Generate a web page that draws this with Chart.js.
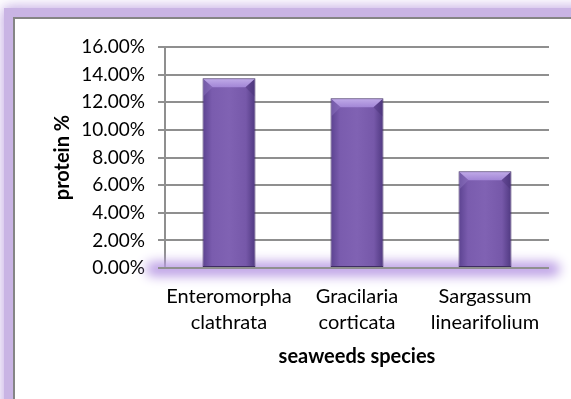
<!DOCTYPE html>
<html>
<head>
<meta charset="utf-8">
<script src="https://cdn.jsdelivr.net/npm/chart.js@4/dist/chart.umd.min.js"></script>
<style>
  html, body { margin: 0; padding: 0; background: #ffffff; }
  #wrap { position: relative; width: 571px; height: 399px; }
</style>
</head>
<body>
<div id="wrap"><canvas id="c" width="571" height="399"></canvas></div>
<script>
// Protein content by seaweed species (fraction of dry weight)
const species = [
  ['Enteromorpha', 'clathrata'],
  ['Gracilaria', 'corticata'],
  ['Sargassum', 'linearifolium']
];
const protein = [0.1374, 0.1229, 0.0701];
const yMin = 0;
const yMax = 0.16;
const yStep = 0.02;
const yTitle = 'protein %';
const xTitle = 'seaweeds species';

const FONT = 'Lato, "Open Sans", sans-serif';

// Lavender glow around the outer frame, white panel, grey border
const framePlugin = {
  id: 'frame',
  beforeDraw(chart) {
    const ctx = chart.ctx;
    const W = chart.width, H = chart.height;
    ctx.save();
    ctx.fillStyle = '#ffffff';
    ctx.fillRect(0, 0, W, H);
    ctx.shadowColor = 'rgba(170,135,215,0.95)';
    ctx.shadowBlur = 14;
    ctx.strokeStyle = '#c9b4e4';
    ctx.lineWidth = 10;
    ctx.strokeRect(9, 13, W + 40, H + 40);
    ctx.shadowBlur = 0;
    ctx.fillStyle = '#ffffff';
    ctx.fillRect(14, 18, W, H);
    ctx.strokeStyle = '#858585';
    ctx.lineWidth = 2;
    ctx.strokeRect(14, 18, W + 20, H + 20);
    ctx.restore();
  }
};

// Soft glow along the category axis, under the bars
const axisGlowPlugin = {
  id: 'axisGlow',
  beforeDatasetsDraw(chart) {
    const { ctx, chartArea } = chart;
    const y = chart.scales.y.getPixelForValue(yMin);
    const shift = 2000;
    ctx.save();
    ctx.lineCap = 'round';
    // stroke off-canvas and keep only its blurred shadow
    ctx.shadowOffsetY = shift;
    ctx.shadowColor = 'rgba(185,155,228,1)';
    ctx.shadowBlur = 12;
    ctx.strokeStyle = '#000';
    ctx.lineWidth = 14;
    ctx.beginPath();
    ctx.moveTo(chartArea.left - 12, y + 1 - shift);
    ctx.lineTo(chartArea.right + 4, y + 1 - shift);
    ctx.stroke();
    ctx.restore();
    // zero line above the glow
    ctx.save();
    ctx.strokeStyle = '#8f8f8f';
    ctx.lineWidth = 2;
    ctx.beginPath();
    ctx.moveTo(chartArea.left - 7, y);
    ctx.lineTo(chartArea.right, y);
    ctx.stroke();
    ctx.restore();
  }
};

// Bevelled top edge on each bar, positioned from the bar elements
const bevelPlugin = {
  id: 'bevel',
  afterDatasetsDraw(chart) {
    const ctx = chart.ctx;
    const meta = chart.getDatasetMeta(0);
    meta.data.forEach((bar) => {
      const half = bar.width / 2;
      const l = bar.x - half, r = bar.x + half, t = bar.y;
      const b = 9;
      ctx.save();
      const g = ctx.createLinearGradient(0, t, 0, t + b);
      g.addColorStop(0, '#c2ade9');
      g.addColorStop(1, '#a286d6');
      ctx.fillStyle = g;
      ctx.beginPath();
      ctx.moveTo(l + 1, t + 1);
      ctx.lineTo(r - 1, t + 1);
      ctx.lineTo(r - b - 1, t + b);
      ctx.lineTo(l + b + 1, t + b);
      ctx.closePath();
      ctx.fill();
      ctx.fillStyle = 'rgba(70,45,115,0.35)';
      ctx.beginPath();
      ctx.moveTo(r - 1, t + 1);
      ctx.lineTo(r - 1, t + 2 * b);
      ctx.lineTo(r - b - 1, t + b);
      ctx.closePath();
      ctx.fill();
      ctx.fillStyle = 'rgba(150,125,200,0.4)';
      ctx.beginPath();
      ctx.moveTo(l + 1, t + 1);
      ctx.lineTo(l + 1, t + 2 * b);
      ctx.lineTo(l + b + 1, t + b);
      ctx.closePath();
      ctx.fill();
      ctx.restore();
    });
  }
};

function barFill(context) {
  const chart = context.chart;
  const el = context.element;
  if (!chart.chartArea || !el || !Number.isFinite(el.x) || !Number.isFinite(el.width)) {
    return '#7a5cab';
  }
  const half = el.width / 2;
  const g = chart.ctx.createLinearGradient(el.x - half, 0, el.x + half, 0);
  g.addColorStop(0, '#5b4290');
  g.addColorStop(0.18, '#7a5cae');
  g.addColorStop(0.5, '#8062b3');
  g.addColorStop(0.82, '#7658a9');
  g.addColorStop(1, '#4f3880');
  return g;
}

const chart = new Chart(document.getElementById('c'), {
  type: 'bar',
  data: {
    labels: species,
    datasets: [{
      data: protein,
      backgroundColor: barFill,
      borderColor: '#3e2b63',
      borderWidth: 1,
      borderSkipped: false,
      barPercentage: 0.414,
      categoryPercentage: 1.0
    }]
  },
  options: {
    responsive: false,
    animation: false,
    devicePixelRatio: 1,
    layout: { padding: { left: 0, top: 47, right: 22, bottom: 0 } },
    plugins: {
      legend: { display: false },
      tooltip: { enabled: false }
    },
    scales: {
      x: {
        grid: { display: false, drawTicks: false },
        border: { display: false },
        ticks: {
          color: '#000000',
          font: { family: FONT, size: 20, lineHeight: 26 / 20 },
          padding: 16,
          maxRotation: 0,
          autoSkip: false
        },
        title: {
          display: true,
          text: xTitle,
          color: '#000000',
          font: { family: FONT, size: 20, weight: 'bold', lineHeight: 1.2 },
          padding: { top: 0, bottom: 30 }
        },
        afterFit(scale) { scale.height = 131; }
      },
      y: {
        min: yMin,
        max: yMax,
        grid: { color: '#8f8f8f', lineWidth: 2, tickLength: 7, drawTicks: true },
        border: { display: true, color: '#8f8f8f', width: 2 },
        ticks: {
          stepSize: yStep,
          color: '#000000',
          padding: 13,
          font: { family: FONT, size: 19 },
          callback: (v) => (v * 100).toFixed(2) + '%'
        },
        title: {
          display: true,
          text: yTitle,
          color: '#000000',
          font: { family: FONT, size: 20, weight: 'bold', lineHeight: 1.2 },
          padding: { top: 51, bottom: 0 }
        },
        afterFit(scale) { scale.width = 165; }
      }
    }
  },
  plugins: [framePlugin, axisGlowPlugin, bevelPlugin]
});
// second pass so the bar gradients follow the laid-out elements
chart.update();
</script>
</body>
</html>
